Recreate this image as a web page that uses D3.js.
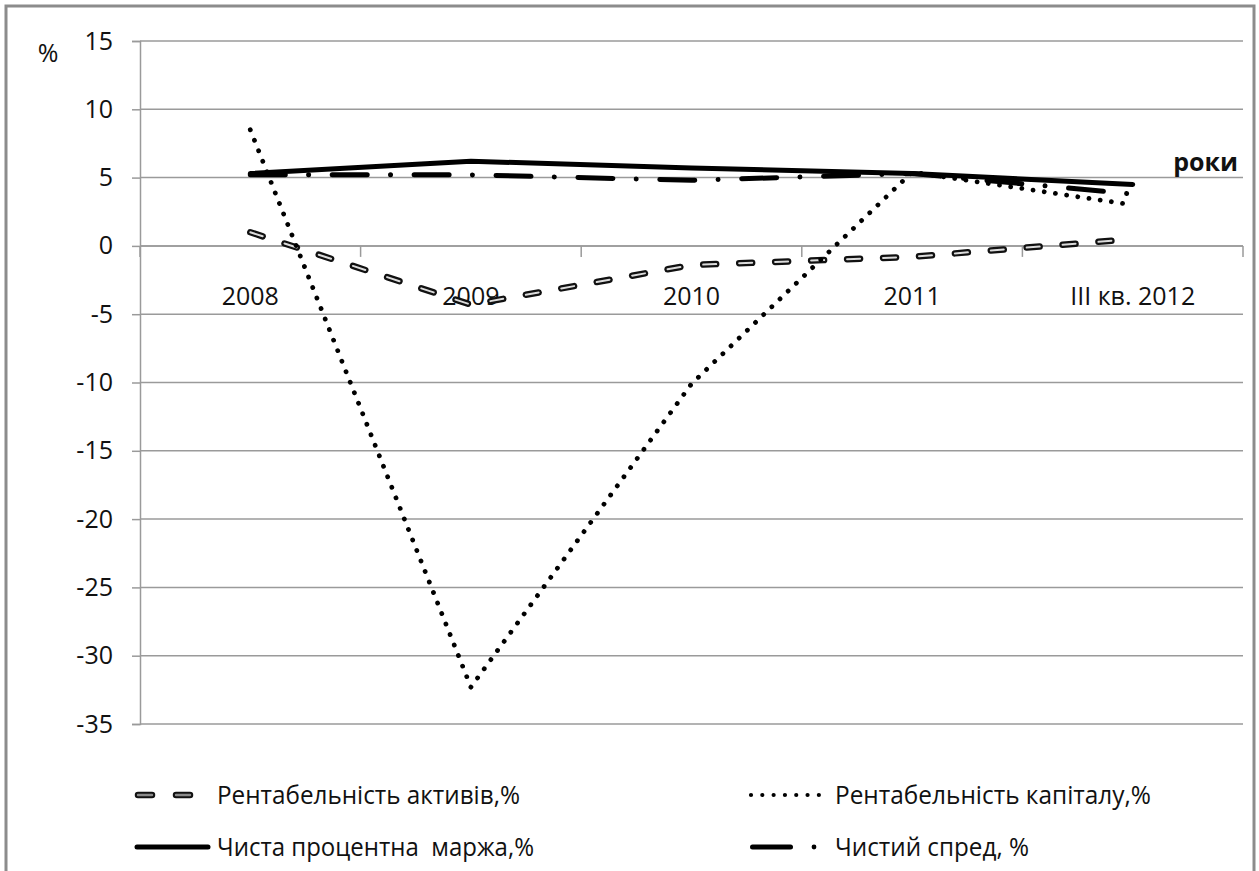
<!DOCTYPE html>
<html>
<head>
<meta charset="utf-8">
<script src="https://cdnjs.cloudflare.com/ajax/libs/d3/7.8.5/d3.min.js"></script>
<style>
  html, body { margin: 0; padding: 0; background: #fff; }
  svg { display: block; }
  text { font-family: "Open Sans", "Noto Sans", "Liberation Sans", sans-serif; fill: #111; }
</style>
</head>
<body>
<svg id="chart" width="1259" height="871"></svg>
<script>
// Categories (years) and indicator values, %
const categories = ["2008", "2009", "2010", "2011", "III кв. 2012"];
const roa    = [1.0, -4.3, -1.4, -0.8, 0.5];     // Рентабельність активів
const roe    = [8.5, -32.3, -10.1, 5.4, 3.0];    // Рентабельність капіталу
const nim    = [5.3, 6.2, 5.7, 5.3, 4.5];        // Чиста процентна маржа
const spread = [5.2, 5.2, 4.8, 5.3, 3.8];        // Чистий спред
const yTicks = [15, 10, 5, 0, -5, -10, -15, -20, -25, -30, -35];
const seriesNames = [
  "Рентабельність активів,%",
  "Рентабельність капіталу,%",
  "Чиста процентна  маржа,%",
  "Чистий спред, %"
];

const svg = d3.select("#chart");

// outer frame
svg.append("rect")
  .attr("x", 6).attr("y", 6).attr("width", 1248).attr("height", 900)
  .attr("fill", "none").attr("stroke", "#8c8c8c").attr("stroke-width", 3);

const plot = { left: 140, right: 1243, top: 41, bottom: 724 };

const x = d3.scaleBand().domain(categories).range([plot.left, plot.right]).padding(0);
const y = d3.scaleLinear().domain([-35, 15]).range([plot.bottom, plot.top]);
const cx = c => x(c) + x.bandwidth() / 2;

const gridColor = "#9a9a9a";

// horizontal gridlines
svg.append("g").selectAll("line").data(yTicks).join("line")
  .attr("x1", plot.left).attr("x2", plot.right)
  .attr("y1", d => y(d)).attr("y2", d => y(d))
  .attr("stroke", gridColor).attr("stroke-width", 1.5);

// value axis
const yAxis = d3.axisLeft(y).tickValues(yTicks).tickSize(8).tickPadding(19)
  .tickFormat(d3.format("d"));
const gy = svg.append("g").attr("transform", `translate(${plot.left},0)`).call(yAxis);
gy.select(".domain").attr("stroke", gridColor).attr("stroke-width", 1.5);
gy.selectAll(".tick line").attr("stroke", gridColor).attr("stroke-width", 1.5);
gy.selectAll(".tick text")
  .attr("font-size", 25)
  .attr("font-family", "'Open Sans', sans-serif")
  .attr("fill", "#111")
  .text(d => d < 0 ? "-" + Math.abs(d) : d);

// category axis crossing at zero
const xAxisY = y(0);
svg.append("line")
  .attr("x1", plot.left).attr("x2", plot.right)
  .attr("y1", xAxisY).attr("y2", xAxisY)
  .attr("stroke", gridColor).attr("stroke-width", 1.5);
const boundaries = categories.map(c => x(c) + x.bandwidth()).concat([plot.left]);
svg.append("g").selectAll("line").data(boundaries).join("line")
  .attr("x1", d => d).attr("x2", d => d)
  .attr("y1", xAxisY).attr("y2", xAxisY + 11)
  .attr("stroke", gridColor).attr("stroke-width", 1.5);
svg.append("g").selectAll("text").data(categories).join("text")
  .attr("x", d => cx(d)).attr("y", xAxisY + 59)
  .attr("text-anchor", "middle").attr("font-size", 25)
  .text(d => d);

// axis titles
svg.append("text").attr("x", 48).attr("y", 62).attr("text-anchor", "middle")
  .attr("font-size", 25).text("%");
svg.append("text").attr("x", 1238).attr("y", 171).attr("text-anchor", "end")
  .attr("font-size", 25).attr("font-weight", "bold").text("роки");

// series lines
const line = d3.line().x((d, i) => cx(categories[i])).y(d => y(d));
const lines = svg.append("g").attr("fill", "none")
  .attr("stroke-linecap", "round").attr("stroke-linejoin", "round");

// Рентабельність активів: outlined light dashes
lines.append("path").attr("d", line(roa))
  .attr("stroke", "#111").attr("stroke-width", 6.5).attr("stroke-dasharray", "13,23");
lines.append("path").attr("d", line(roa))
  .attr("stroke", "#dcdcdc").attr("stroke-width", 2).attr("stroke-dasharray", "13,23");

// Рентабельність капіталу: round dots
lines.append("path").attr("d", line(roe))
  .attr("stroke", "#000").attr("stroke-width", 4.8).attr("stroke-dasharray", "0.01,11.3");

// Чиста процентна маржа: solid
lines.append("path").attr("d", line(nim))
  .attr("stroke", "#000").attr("stroke-width", 5);

// Чистий спред: long dash – dot
lines.append("path").attr("d", line(spread))
  .attr("stroke", "#000").attr("stroke-width", 5)
  .attr("stroke-dasharray", "35,23.3,0.01,23.6");

// legend
const legend = svg.append("g").attr("fill", "none")
  .attr("stroke-linecap", "round").attr("stroke-linejoin", "round");
const row1 = 795, row2 = 847;

legend.append("line").attr("x1", 138).attr("x2", 192).attr("y1", row1).attr("y2", row1)
  .attr("stroke", "#111").attr("stroke-width", 6.5).attr("stroke-dasharray", "14,24");
legend.append("line").attr("x1", 138).attr("x2", 192).attr("y1", row1).attr("y2", row1)
  .attr("stroke", "#8a8a8a").attr("stroke-width", 2.4).attr("stroke-dasharray", "14,24");

legend.append("line").attr("x1", 137).attr("x2", 208).attr("y1", row2).attr("y2", row2)
  .attr("stroke", "#000").attr("stroke-width", 5);

legend.append("line").attr("x1", 751).attr("x2", 819).attr("y1", row1).attr("y2", row1)
  .attr("stroke", "#000").attr("stroke-width", 4.2).attr("stroke-dasharray", "0.01,11.3");

legend.append("line").attr("x1", 752.5).attr("x2", 790.5).attr("y1", row2).attr("y2", row2)
  .attr("stroke", "#000").attr("stroke-width", 5);
legend.append("circle").attr("cx", 814).attr("cy", row2).attr("r", 2.4).attr("fill", "#000");

const legendText = [
  { name: seriesNames[0], x: 217, y: row1, w: 303 },
  { name: seriesNames[2], x: 217, y: row2, w: 317 },
  { name: seriesNames[1], x: 835, y: row1, w: 316 },
  { name: seriesNames[3], x: 835, y: row2, w: 194 }
];
svg.append("g").selectAll("text").data(legendText).join("text")
  .attr("x", d => d.x).attr("y", d => d.y + 9)
  .attr("font-size", 25)
  .style("white-space", "pre")
  .attr("textLength", d => d.w).attr("lengthAdjust", "spacingAndGlyphs")
  .text(d => d.name);
</script>
</body>
</html>
